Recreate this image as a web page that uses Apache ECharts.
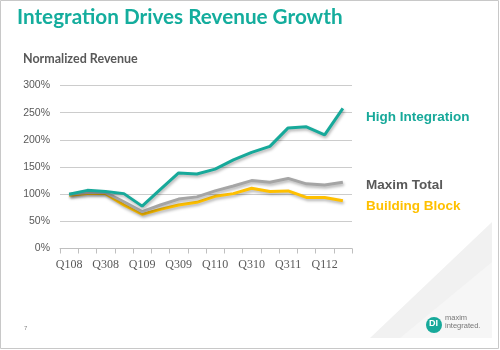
<!DOCTYPE html>
<html><head><meta charset="utf-8">
<script src="https://cdn.jsdelivr.net/npm/echarts@6/dist/echarts.min.js"></script>
<style>html,body{margin:0;padding:0;background:#fff}#c{width:500px;height:350px}</style>
</head><body><div id="c"></div>
<script>
var categories = ['Q108','Q208','Q308','Q408','Q109','Q209','Q309','Q409','Q110','Q210','Q310','Q111','Q311','Q411','Q112','Q212'];
var highIntegration = [100,107,105,101,78,109,139,137,146,163,177,188,222,224,209,258];
var maximTotal = [100,103,103,86,68,80,91,95,106,115,125,122,129,119,117,122];
var buildingBlock = [98,101,101,80,63,72,80,85,96,101,111,105,106,94,94,88];
var yTicks = [0,50,100,150,200,250,300];

var TEAL = '#17a99a', GRAY = '#a5a5a5', YELLOW = '#ffc000', DARK = '#595959';
var chart = echarts.init(document.getElementById('c'), null, {renderer:'canvas'});
function mk(name, data, color, z){
  return {name:name, type:'line', data:data, symbol:'none', z:z,
    lineStyle:{color:color, width:3, shadowColor:'rgba(0,0,0,0.3)', shadowBlur:3, shadowOffsetX:1, shadowOffsetY:2},
    itemStyle:{color:color}};
}
chart.setOption({
  animation:false,
  grid:{left:60, right:148, top:85.5, bottom:101.5},
  xAxis:{type:'category', data:categories, boundaryGap:true,
    axisLine:{lineStyle:{color:'#bfbfbf', width:1}},
    axisTick:{show:true, interval:0, length:5, lineStyle:{color:'#bfbfbf'}},
    axisLabel:{interval:1, color:DARK, fontFamily:'Liberation Serif', fontSize:12, margin:10}},
  yAxis:{type:'value', min:yTicks[0], max:yTicks[yTicks.length-1], interval:50,
    axisLine:{show:false}, axisTick:{show:false},
    splitLine:{lineStyle:{color:'#cccccc', width:1}},
    axisLabel:{formatter:'{value}%', color:DARK, fontFamily:'Liberation Sans', fontSize:10.5, margin:10}},
  series:[mk('Building Block', buildingBlock, YELLOW, 2), mk('Maxim Total', maximTotal, GRAY, 3), mk('High Integration', highIntegration, TEAL, 4)],
  graphic:[
    {type:'rect', shape:{x:0.5,y:0.5,width:498,height:348}, style:{fill:null, stroke:'#c8c8c8', lineWidth:1}, z:-10, silent:true},
    {type:'polygon', shape:{points:[[370,338],[492,338],[492,222]]}, style:{fill:'#f1f1f1'}, z:-9},
    {type:'polygon', shape:{points:[[400,338],[492,338],[492,262]]}, style:{fill:'#f6f6f6'}, z:-8},
    {type:'text', left:17, top:7, style:{text:'Integration Drives Revenue Growth', fill:'#14ad9d', font:'bold 20.7px Lato'}},
    {type:'text', left:23, top:52, style:{text:'Normalized Revenue', fill:DARK, font:'bold 12.5px Lato'}},
    {type:'text', left:366, top:110, style:{text:'High Integration', fill:TEAL, font:'bold 13.5px "Liberation Sans"'}},
    {type:'text', left:366, top:178, style:{text:'Maxim Total', fill:DARK, font:'bold 13.5px "Liberation Sans"'}},
    {type:'text', left:366, top:199.5, style:{text:'Building Block', fill:YELLOW, font:'bold 13.5px "Liberation Sans"'}},
    {type:'text', left:24, top:325, style:{text:'7', fill:'#888', font:'6px "Liberation Sans"'}},
    {type:'circle', shape:{cx:434, cy:325, r:8}, style:{fill:TEAL}},
    {type:'text', left:429, top:319.5, style:{text:'DI', fill:'#fff', font:'bold 9px "Liberation Sans"'}},
    {type:'text', left:445, top:314, style:{text:'maxim', fill:'#777', font:'7.5px "Liberation Sans"'}},
    {type:'text', left:445, top:322, style:{text:'integrated.', fill:'#777', font:'7.5px "Liberation Sans"'}}
  ]
});
</script></body></html>
